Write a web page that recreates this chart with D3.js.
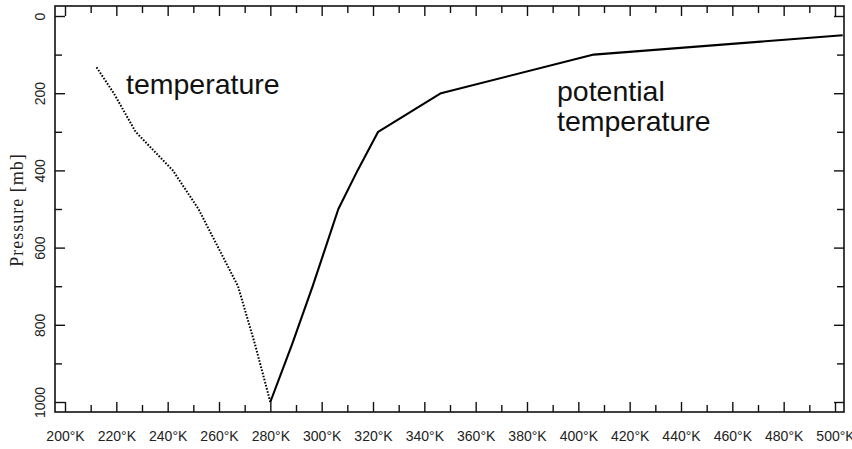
<!DOCTYPE html>
<html>
<head>
<meta charset="utf-8">
<script src="https://cdn.jsdelivr.net/npm/d3@7"></script>
<style>
  html, body { margin: 0; padding: 0; background: #fff; }
  svg { display: block; }
</style>
</head>
<body>
<svg id="chart" width="852" height="449"></svg>
<script>
// ---- data ----
const tempPressure = [1000, 850, 700, 500, 400, 300, 200, 130];
const tempValues   = [280, 274, 267.4, 252, 242, 227.5, 219, 212];
const thetaPressure = [1000, 850, 700, 500, 400, 300, 200, 100, 50];
const thetaValues   = [280, 288.5, 296.5, 306.5, 314, 322, 346.5, 406, 503];
const xMajorTicks = [200, 220, 240, 260, 280, 300, 320, 340, 360, 380, 400, 420, 440, 460, 480, 500];
const xMinorTicks = [210, 230, 250, 270, 290, 310, 330, 350, 370, 390, 410, 430, 450, 470, 490];
const yMajorTicks = [0, 200, 400, 600, 800, 1000];
const yMinorTicks = [100, 300, 500, 700, 900];
const seriesLabels = ["temperature", "potential", "temperature"];
const yAxisTitle = "Pressure [mb]";

// ---- layout ----
const svg = d3.select("#chart");
const frame = { left: 55, right: 844, top: 6, bottom: 412 };
const x = d3.scaleLinear().domain([200, 500]).range([65, 835]);
const y = d3.scaleLinear().domain([0, 1000]).range([16, 402]);
const ink = "#111";

svg.append("clipPath").attr("id", "clip")
  .append("rect")
  .attr("x", frame.left).attr("y", frame.top)
  .attr("width", frame.right - frame.left).attr("height", frame.bottom - frame.top);

function addAxis(axisGen, transform) {
  const g = svg.append("g").attr("transform", transform).call(axisGen);
  g.select(".domain").remove();
  g.selectAll(".tick line").attr("stroke", ink).attr("stroke-width", 1.4);
  return g;
}
const gxb = addAxis(d3.axisBottom(x).tickValues(xMajorTicks).tickSize(-10).tickPadding(0)
  .tickFormat(d => d + "°K"), `translate(0,${frame.bottom})`);
gxb.selectAll(".tick text")
  .attr("y", 29).attr("dy", 0)
  .attr("font-family", "Liberation Sans, Arial, sans-serif")
  .attr("font-size", 14).attr("fill", "#222");
addAxis(d3.axisBottom(x).tickValues(xMinorTicks).tickSize(-7).tickFormat(""), `translate(0,${frame.bottom})`);
addAxis(d3.axisTop(x).tickValues(xMajorTicks).tickSize(-10).tickFormat(""), `translate(0,${frame.top})`);
addAxis(d3.axisTop(x).tickValues(xMinorTicks).tickSize(-7).tickFormat(""), `translate(0,${frame.top})`);
const gyl = addAxis(d3.axisLeft(y).tickValues(yMajorTicks).tickSize(-10).tickFormat(d3.format("d")),
  `translate(${frame.left},0)`);
gyl.selectAll(".tick text")
  .attr("x", 0).attr("dy", 0)
  .attr("text-anchor", "middle")
  .attr("transform", "translate(-10,0) rotate(-90)")
  .attr("font-family", "Liberation Sans, Arial, sans-serif")
  .attr("font-size", 14).attr("fill", "#222");
addAxis(d3.axisLeft(y).tickValues(yMinorTicks).tickSize(-7).tickFormat(""), `translate(${frame.left},0)`);
addAxis(d3.axisRight(y).tickValues(yMajorTicks).tickSize(-10).tickFormat(""), `translate(${frame.right},0)`);
addAxis(d3.axisRight(y).tickValues(yMinorTicks).tickSize(-7).tickFormat(""), `translate(${frame.right},0)`);

svg.append("rect")
  .attr("x", frame.left).attr("y", frame.top)
  .attr("width", frame.right - frame.left).attr("height", frame.bottom - frame.top)
  .attr("fill", "none").attr("stroke", ink).attr("stroke-width", 1.6);

const line = d3.line().x(d => x(d[0])).y(d => y(d[1]));
const tempData = tempValues.map((v, i) => [v, tempPressure[i]]);
const thetaData = thetaValues.map((v, i) => [v, thetaPressure[i]]);

svg.append("path").datum(tempData)
  .attr("d", line).attr("clip-path", "url(#clip)")
  .attr("fill", "none").attr("stroke", "#000")
  .attr("stroke-width", 2).attr("stroke-dasharray", "1.6 1.6");

svg.append("path").datum(thetaData)
  .attr("d", line).attr("clip-path", "url(#clip)")
  .attr("fill", "none").attr("stroke", "#000")
  .attr("stroke-width", 2.1).attr("stroke-linejoin", "round");

const labelFont = "Liberation Sans, Arial, sans-serif";
svg.append("text").attr("x", 126).attr("y", 94)
  .attr("font-family", labelFont).attr("font-size", 28.5).attr("fill", "#111")
  .text(seriesLabels[0]);
svg.append("text").attr("x", 557).attr("y", 101)
  .attr("font-family", labelFont).attr("font-size", 28.5).attr("fill", "#111")
  .text(seriesLabels[1]);
svg.append("text").attr("x", 557).attr("y", 131)
  .attr("font-family", labelFont).attr("font-size", 28.5).attr("fill", "#111")
  .text(seriesLabels[2]);

svg.append("text")
  .attr("transform", "translate(23,210) rotate(-90)")
  .attr("text-anchor", "middle")
  .attr("font-family", "Liberation Serif, Times New Roman, serif")
  .attr("font-size", 18).attr("letter-spacing", 1).attr("fill", "#222")
  .text(yAxisTitle);
</script>
</body>
</html>
